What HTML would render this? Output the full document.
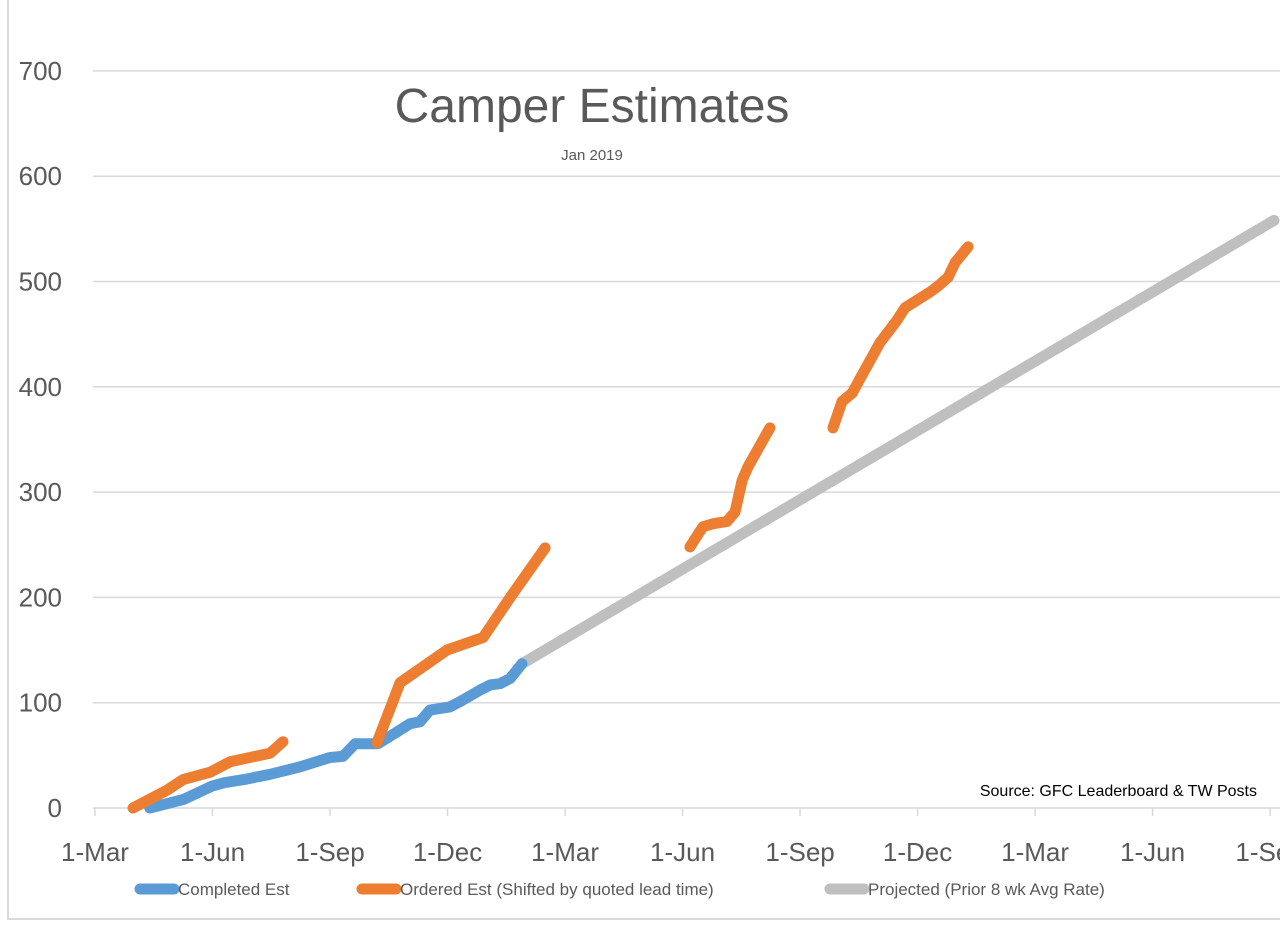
<!DOCTYPE html>
<html><head><meta charset="utf-8"><style>
html,body{margin:0;padding:0;background:#fff;}
svg{display:block;font-family:"Liberation Sans",sans-serif;}
</style></head><body>
<svg id="chart" width="1280" height="930">
<rect x="8" y="-5" width="1300" height="924" fill="#fff" stroke="#d9d9d9" stroke-width="2"/>
<g id="grid"></g>
<g id="yticks"></g>
<g id="xaxis"></g>
<g id="series"></g>
<text x="592" y="122" text-anchor="middle" font-size="48" fill="#595959">Camper Estimates</text>
<text x="592" y="160" text-anchor="middle" font-size="15" fill="#595959">Jan 2019</text>
<text x="1257" y="796" text-anchor="end" font-size="16" fill="#000">Source: GFC Leaderboard &amp; TW Posts</text>
<g>
<g>
<line x1="140" y1="889" x2="174" y2="889" stroke="#5b9bd5" stroke-width="11" stroke-linecap="round"/>
<text x="178" y="895" font-size="17" fill="#595959">Completed Est</text></g>
<g>
<line x1="362" y1="889" x2="396" y2="889" stroke="#ed7d31" stroke-width="11" stroke-linecap="round"/>
<text x="400" y="895" font-size="17" fill="#595959">Ordered Est (Shifted by quoted lead time)</text></g>
<g>
<line x1="830" y1="889" x2="864" y2="889" stroke="#bfbfbf" stroke-width="11" stroke-linecap="round"/>
<text x="868" y="895" font-size="17" fill="#595959">Projected (Prior 8 wk Avg Rate)</text></g>
</g>
</svg>
<script>
// x values: months since 1-Mar-2018
const yTicks = [0,100,200,300,400,500,600,700];
const xTickLabels = ["1-Mar","1-Jun","1-Sep","1-Dec","1-Mar","1-Jun","1-Sep","1-Dec","1-Mar","1-Jun","1-Sep"];
const completedX = [1.4,2.25,3.0,3.3,3.8,4.47,5.23,6.0,6.33,6.64,7.22,7.66,8.04,8.3,8.55,9.06,9.32,9.83,10.1,10.34,10.6,10.9];
const completedY = [0,8,21,24,27,32,39,48,49,61,61,71,80,82,93,96,101,112,117,118,123,137];
const ordered1X = [0.97,1.84,2.25,2.94,3.45,4.47,4.8];
const ordered1Y = [0,17,27,34,44,52,63];
const ordered2X = [7.2,7.79,8.99,9.91,10.6,11.49];
const ordered2Y = [62,119,150,162,200,247];
const ordered3X = [15.19,15.52,15.78,16.13,16.34,16.52,16.67,17.23];
const ordered3Y = [248,267,270,272,281,311,324,361];
const ordered4X = [18.84,19.07,19.33,19.61,20.04,20.47,20.68,21.32,21.5,21.78,21.96,22.29];
const ordered4Y = [361,386,394,413,442,463,475,490,495,504,518,533];
const projectedX = [10.9,30.1];
const projectedY = [137,558];

const NS="http://www.w3.org/2000/svg";
const xs = m => 95 + m*39.17;
const ys = v => 808 - v*1.053;
function mk(tag,attrs,parent){const e=document.createElementNS(NS,tag);for(const k in attrs)e.setAttribute(k,attrs[k]);parent.appendChild(e);return e;}
const grid=document.getElementById('grid'), yt=document.getElementById('yticks'), xa=document.getElementById('xaxis'), ser=document.getElementById('series');
yTicks.forEach(v=>{
  if(v>0){const l=mk('line',{x1:93,x2:1280,y1:ys(v),y2:ys(v),stroke:'#d9d9d9','stroke-width':1.5},grid);
  
  }
  const t=mk('text',{x:62,y:ys(v)+9,'text-anchor':'end','font-size':26,fill:'#595959'},yt);
  t.textContent=v;
  
  
});
const ax=mk('line',{x1:93,x2:1280,y1:808,y2:808,stroke:'#d9d9d9','stroke-width':1.5},xa);


xTickLabels.forEach((lab,i)=>{
  const x=xs(i*3);
  const tk=mk('line',{x1:x,x2:x,y1:808,y2:816,stroke:'#d9d9d9','stroke-width':1.5},xa);
  
  
  const t=mk('text',{x:x,y:861,'text-anchor':'middle','font-size':26,fill:'#595959'},xa);
  t.textContent=lab;
  
  
});
function line(X,Y,color,name){
  const d=X.map((x,i)=>(i?'L':'M')+xs(x).toFixed(1)+' '+ys(Y[i]).toFixed(1)).join(' ');
  const p=mk('path',{d:d,fill:'none',stroke:color,'stroke-width':11,'stroke-linecap':'round','stroke-linejoin':'round'},ser);
  
  
}
line(projectedX,projectedY,'#bfbfbf','projected-line');
line(completedX,completedY,'#5b9bd5','completed-line');
line(ordered1X,ordered1Y,'#ed7d31','ordered-line-seg1');
line(ordered2X,ordered2Y,'#ed7d31','ordered-line-seg2');
line(ordered3X,ordered3Y,'#ed7d31','ordered-line-seg3');
line(ordered4X,ordered4Y,'#ed7d31','ordered-line-seg4');
</script>
</body></html>
